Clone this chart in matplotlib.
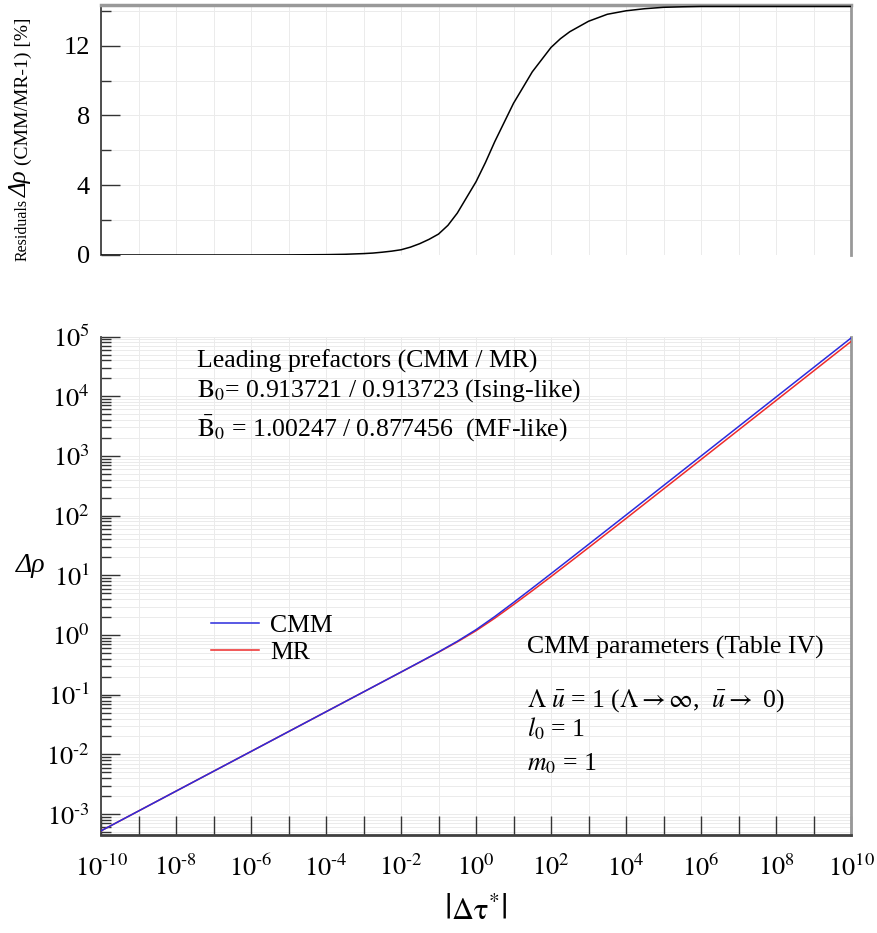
import matplotlib
matplotlib.use("Agg")
import matplotlib.pyplot as plt
from matplotlib.ticker import LogLocator, FuncFormatter, NullLocator, MultipleLocator, NullFormatter, FixedLocator
import numpy as np

plt.rcParams['font.family'] = ['Liberation Serif', 'DejaVu Serif']
plt.rcParams['mathtext.fontset'] = 'stix'

# main curves
tau = [1e-10, 1e-8, 1e-6, 1e-4, 1e-2, 3.16e-2, 0.1, 0.316, 1.0, 3.16, 10.0,
       31.6, 100.0, 316.0, 1e3, 1e4, 1e6, 1e8, 1e10]
rho_cmm = [5.25e-4, 2.43e-3, 1.122e-2, 5.19e-2, 0.240, 0.353, 0.521, 0.785,
           1.23, 2.04, 3.51, 6.10, 10.67, 18.75, 33.0, 102.3, 995.0, 9683.0,
           94400.0]
rho_mr = [5.25e-4, 2.43e-3, 1.122e-2, 5.19e-2, 0.2393, 0.3507, 0.5148, 0.7666,
          1.180, 1.915, 3.229, 5.520, 9.535, 16.62, 29.10, 89.7, 871.0, 8475.0,
          82600.0]

# residuals CMM/MR-1 in percent (top panel)
tau_res = [1e-10, 1e-6, 1e-5, 1e-4, 3.16e-4, 1e-3, 1.78e-3, 3.16e-3, 5.62e-3,
           1e-2, 1.78e-2, 3.16e-2, 5.62e-2, 0.1, 0.178, 0.316, 0.562, 1.0,
           1.78, 3.16, 5.62, 10.0, 17.8, 31.6, 56.2, 100.0, 178.0, 316.0,
           562.0, 1e3, 1.78e3, 3.16e3, 5.62e3, 1e4, 3.16e4, 1e5, 3.16e5, 1e6,
           1e10]
res = [0.0, 0.0, 0.005, 0.02, 0.04, 0.08, 0.11, 0.16, 0.22, 0.3, 0.45, 0.65,
       0.9, 1.2, 1.7, 2.4, 3.3, 4.2, 5.3, 6.5, 7.6, 8.7, 9.6, 10.5, 11.2, 11.9,
       12.4, 12.8, 13.1, 13.4, 13.6, 13.8, 13.9, 14.0, 14.12, 14.2, 14.23,
       14.25, 14.25]

x_decades = [10.0 ** k for k in range(-10, 11)]
y_decades = [10.0 ** k for k in range(-3, 6)]

tick_col = "#333333"
grid_col = "#ebebeb"

fig = plt.figure(figsize=(8.77, 9.33), dpi=100)
ax_r = fig.add_axes([0.1152, 0.7267, 0.8552, 0.2679])
ax = fig.add_axes([0.1152, 0.105, 0.8552, 0.5343])

# ---- residual panel
ax_r.plot(tau_res, res, color="k", lw=1.1, zorder=3)
ax_r.set_xscale("log")
ax_r.set_xlim(1e-10, 1e10)
ax_r.set_ylim(0, 14.33)
ax_r.xaxis.set_major_locator(FixedLocator(x_decades))
ax_r.xaxis.set_minor_locator(NullLocator())
ax_r.yaxis.set_major_locator(MultipleLocator(4))
ax_r.yaxis.set_minor_locator(MultipleLocator(2))
ax_r.tick_params(axis="x", which="both", bottom=False, labelbottom=False)
ax_r.tick_params(axis="y", which="major", direction="in", length=14, width=1,
                 color=tick_col, labelsize=19, pad=8)
ax_r.tick_params(axis="y", which="minor", direction="in", length=7, width=1,
                 color=tick_col)
ax_r.grid(True, which="major", axis="x", color=grid_col, lw=0.7)
ax_r.grid(True, which="both", axis="y", color=grid_col, lw=0.7)
ax_r.xaxis.set_zorder(1.4)
ax_r.yaxis.set_zorder(1.6)
ax_r.spines["bottom"].set_visible(False)
ax_r.spines["left"].set_color("#404040")
ax_r.spines["left"].set_linewidth(1.3)
ax_r.spines["top"].set_color("#999999")
ax_r.spines["top"].set_linewidth(2.5)
ax_r.spines["right"].set_color("#999999")
ax_r.spines["right"].set_linewidth(2)

# rotated y label built from three pieces
fig.text(0.026, 1 - 261 / 933, "Residuals", rotation=90, ha="center", va="bottom",
         fontsize=11.5)
fig.text(0.024, 1 - 197 / 933, "Δρ", rotation=90, ha="center", va="bottom",
         fontsize=18, style="italic")
fig.text(0.027, 1 - 165 / 933, "(CMM/MR-1) [%]", rotation=90, ha="center",
         va="bottom", fontsize=14)

# ---- main log-log panel
ax.plot(tau, rho_mr, color="#ee2b2b", lw=1.1, label="MR", zorder=3)
ax.plot(tau, rho_cmm, color="#2b2bdd", lw=1.1, label="CMM", zorder=4)
ax.set_xscale("log")
ax.set_yscale("log")
ax.set_xlim(1e-10, 1e10)
ax.set_ylim(4.47e-4, 1e5)


def dec_label(v, pos):
    e = int(round(np.log10(v)))
    if e < 0:
        return r"$10^{\text{-}%d}$" % (-e)
    return r"$10^{%d}$" % e


def even_decades(v, pos):
    e = int(round(np.log10(v)))
    if e % 2:
        return ""
    return dec_label(v, pos)


ax.xaxis.set_major_locator(FixedLocator(x_decades))
ax.xaxis.set_minor_locator(NullLocator())
ax.xaxis.set_major_formatter(FuncFormatter(even_decades))
ax.yaxis.set_major_locator(FixedLocator(y_decades))
ax.yaxis.set_minor_locator(LogLocator(base=10, subs=np.arange(2, 10), numticks=30))
ax.yaxis.set_minor_formatter(NullFormatter())
ax.yaxis.set_major_formatter(FuncFormatter(dec_label))

ax.tick_params(axis="x", which="major", direction="in", length=14, width=1,
               color=tick_col, labelsize=19, pad=14)
ax.tick_params(axis="y", which="major", direction="in", length=14, width=1,
               color=tick_col, labelsize=19, pad=8)
ax.tick_params(axis="y", which="minor", direction="in", length=7, width=1,
               color=tick_col)
ax.grid(True, which="major", axis="x", color=grid_col, lw=0.7)
ax.grid(True, which="both", axis="y", color=grid_col, lw=0.7)
ax.yaxis.set_zorder(1.4)
ax.xaxis.set_zorder(1.6)
ax.spines["top"].set_visible(False)
ax.spines["left"].set_color("#404040")
ax.spines["left"].set_linewidth(1.3)
ax.spines["bottom"].set_color("#404040")
ax.spines["bottom"].set_linewidth(2)
ax.spines["right"].set_color("#999999")
ax.spines["right"].set_linewidth(2)

fig.text(31 / 877, 1 - 566 / 933, "Δρ", ha="center", va="center", fontsize=20,
         style="italic")
fig.text(476 / 877, 1 - 911 / 933, r"$\left|\Delta\mathrm{\tau}^{*}\right|$",
         ha="center", va="center", fontsize=22)

# annotations
fs = 18.5
ax.text(0.128, 0.937, "Leading prefactors (CMM / MR)", transform=ax.transAxes,
        fontsize=fs, va="baseline")
ax.text(0.128, 0.879, r"$\mathrm{B}_0$= 0.913721 / 0.913723 (Ising-like)",
        transform=ax.transAxes, fontsize=fs, va="baseline")
ax.text(0.128, 0.800, r"$\bar{\mathrm{B}}_0$ = 1.00247 / 0.877456  (MF-like)",
        transform=ax.transAxes, fontsize=fs, va="baseline")

ax.text(0.568, 0.365, "CMM parameters (Table IV)", transform=ax.transAxes,
        fontsize=fs, va="baseline")
ax.text(0.568, 0.257,
        r"$\Lambda\ \bar{u}$ = 1 ($\Lambda\rightarrow\infty$,  $\bar{u}\rightarrow$ 0)",
        transform=ax.transAxes, fontsize=fs, va="baseline")
ax.text(0.568, 0.197, r"$l_0$ = 1", transform=ax.transAxes, fontsize=fs, va="baseline")
ax.text(0.568, 0.130, r"$m_0$ = 1", transform=ax.transAxes, fontsize=fs, va="baseline")

h, l = ax.get_legend_handles_labels()
ax.legend(h[::-1], l[::-1], loc="upper left", bbox_to_anchor=(0.147, 0.443),
          frameon=False, fontsize=fs, handlelength=1.87, handletextpad=0.43,
          labelspacing=0.15, borderaxespad=0, borderpad=0)

fig.savefig("out.png", dpi=100)
